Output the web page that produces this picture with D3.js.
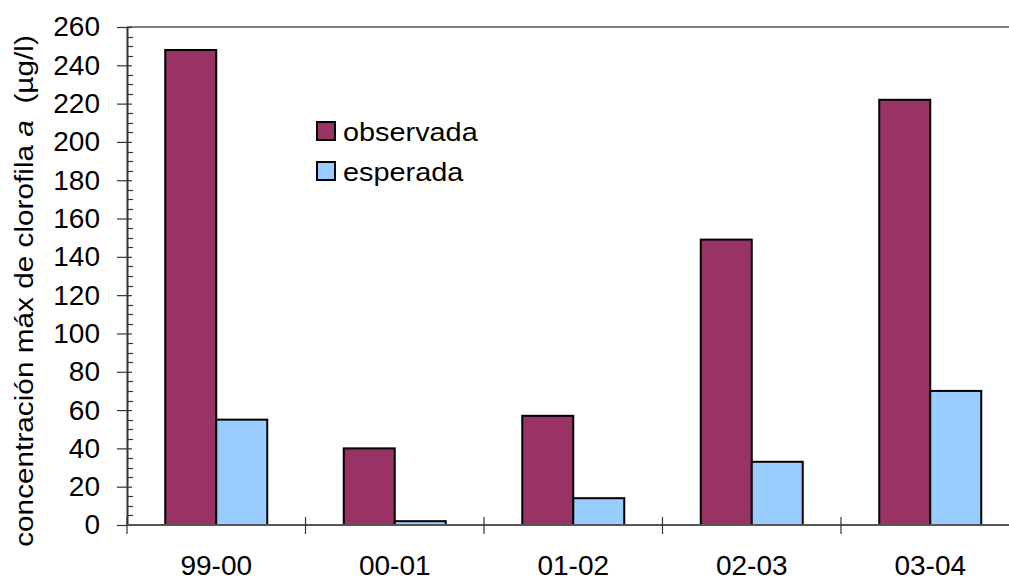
<!DOCTYPE html>
<html>
<head>
<meta charset="utf-8">
<script src="https://cdn.jsdelivr.net/npm/d3@7/dist/d3.min.js"></script>
<style>
  html, body { margin: 0; padding: 0; background: #fff; }
  svg { display: block; font-family: Arial, "Liberation Sans", sans-serif; }
</style>
</head>
<body>
<svg id="chart" width="1009" height="581"></svg>
<script>
// Campaign seasons and the two series of maximum chlorophyll-a concentration (µg/l)
const seasons = ["99-00", "00-01", "01-02", "02-03", "03-04"];
const seriesNames = ["observada", "esperada"];
const observada = [248, 40, 57, 149, 222];
const esperada = [55, 2, 14, 33, 70];
const yTicks = [0, 20, 40, 60, 80, 100, 120, 140, 160, 180, 200, 220, 240, 260];
const seriesColors = ["#993366", "#99CCFF"];

const svg = d3.select("#chart");
const plot = { left: 127, right: 1019.5, top: 27, bottom: 525 };

const rows = seasons.map((s, i) => ({ season: s, values: [observada[i], esperada[i]] }));

const x0 = d3.scaleBand().domain(seasons).range([plot.left, plot.right]).padding(0);
const x1 = d3.scaleBand().domain(seriesNames).range([0, x0.bandwidth()])
  .paddingInner(0).paddingOuter(0.75);
const y = d3.scaleLinear().domain([0, 260]).range([plot.bottom, plot.top]);
const color = d3.scaleOrdinal().domain(seriesNames).range(seriesColors);

// top frame line
svg.append("line")
  .attr("x1", plot.left).attr("x2", 1009)
  .attr("y1", plot.top).attr("y2", plot.top)
  .attr("stroke", "#808080").attr("stroke-width", 2);

// bars
const groups = svg.append("g").selectAll("g").data(rows).join("g")
  .attr("transform", d => `translate(${x0(d.season)},0)`);
groups.selectAll("rect")
  .data(d => d.values.map((v, k) => ({ key: seriesNames[k], value: v })))
  .join("rect")
  .attr("x", d => x1(d.key))
  .attr("width", x1.bandwidth())
  .attr("y", d => y(d.value))
  .attr("height", d => y(0) - y(d.value))
  .attr("fill", d => color(d.key))
  .attr("stroke", "#000")
  .attr("stroke-width", 2);

// minor y ticks (every 5, inside)
const minor = d3.range(0, 261, 5).filter(v => v % 20 !== 0);
svg.append("g").selectAll("line").data(minor).join("line")
  .attr("x1", plot.left).attr("x2", plot.left + 6)
  .attr("y1", d => Math.round(y(d)) + 0.5).attr("y2", d => Math.round(y(d)) + 0.5)
  .attr("stroke", "#333").attr("stroke-width", 1.2);

// y axis (major ticks cross the axis)
const yAxis = svg.append("g")
  .attr("transform", `translate(${plot.left},0)`)
  .call(d3.axisLeft(y).tickValues(yTicks).tickSize(10).tickSizeOuter(0).tickPadding(17));
yAxis.select(".domain").attr("stroke", "#333").attr("stroke-width", 2);
yAxis.selectAll(".tick line").attr("stroke", "#333").attr("stroke-width", 1.2)
  .attr("x2", -10).attr("x1", 5);
yAxis.selectAll(".tick text").attr("font-size", 28).attr("fill", "#000")
  .attr("font-family", "Arial, 'Liberation Sans', sans-serif");

// x axis with category boundary ticks
const xAxisG = svg.append("g");
xAxisG.append("line")
  .attr("x1", plot.left).attr("x2", 1009)
  .attr("y1", plot.bottom).attr("y2", plot.bottom)
  .attr("stroke", "#555").attr("stroke-width", 2);
const bounds = seasons.map(s => x0(s));
xAxisG.selectAll("line.b").data(bounds).join("line").attr("class", "b")
  .attr("x1", d => d).attr("x2", d => d)
  .attr("y1", plot.bottom - 8).attr("y2", plot.bottom + 9)
  .attr("stroke", "#333").attr("stroke-width", 1.2);
xAxisG.selectAll("text").data(seasons).join("text")
  .attr("x", d => x0(d) + x0.bandwidth() / 2)
  .attr("y", 575)
  .attr("text-anchor", "middle")
  .attr("font-size", 28)
  .text(d => d);

// y axis title (slightly widened lettering)
const title = svg.append("text")
  .attr("transform", "translate(33,291) rotate(-90) scale(1.145,1)")
  .attr("text-anchor", "middle")
  .attr("font-size", 26);
title.append("tspan").text("concentración máx de clorofila ");
title.append("tspan").attr("font-style", "italic").text("a");
title.append("tspan").attr("xml:space", "preserve").text("  (µg/l)");

// legend
const legend = svg.append("g").selectAll("g").data(seriesNames).join("g")
  .attr("transform", (d, i) => `translate(317,${122 + i * 40})`);
legend.append("rect")
  .attr("width", 18).attr("height", 18)
  .attr("fill", d => color(d)).attr("stroke", "#000").attr("stroke-width", 2);
legend.append("text")
  .attr("transform", "translate(26,19) scale(1.11,1)")
  .attr("font-size", 26)
  .text(d => d);
</script>
</body>
</html>
